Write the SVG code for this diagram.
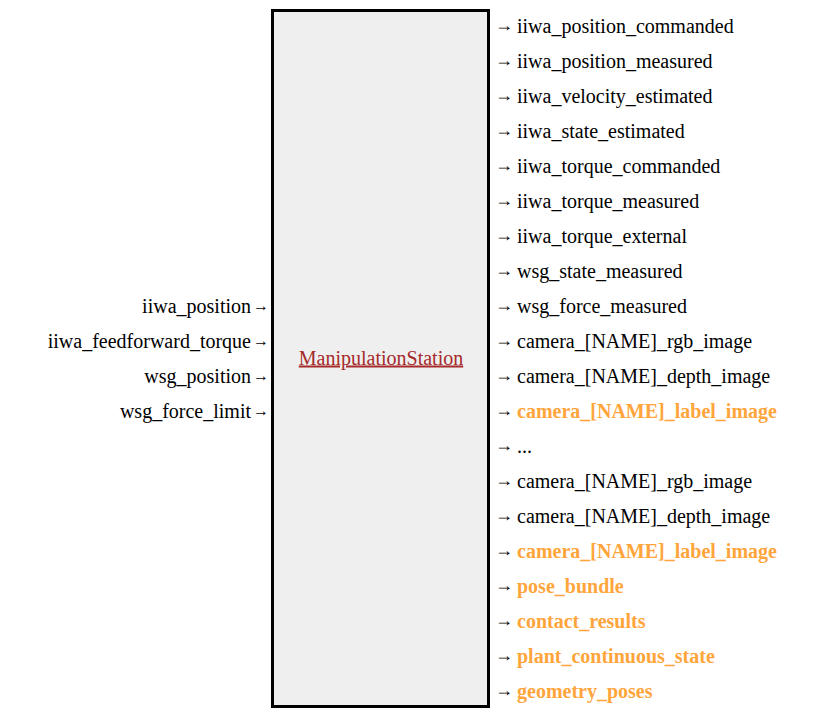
<svg xmlns="http://www.w3.org/2000/svg" width="824" height="723" viewBox="0 0 824 723">
<style>
text{font-family:"Liberation Serif","Times New Roman",serif;font-size:20px;fill:#000;}
.in{text-anchor:end;}
.b{font-weight:bold;fill:#ffa53b;}
.t{fill:#a52a2a;text-decoration:underline;text-anchor:middle;}
.ar{font-size:18px;}
.al{font-size:16px;}
</style>
<rect width="824" height="723" fill="#fff"/>
<g id="ManipulationStation">
<rect x="272.5" y="10.5" width="216" height="696" fill="#efefef" stroke="#000" stroke-width="3"/>
<text class="t" x="381" y="364.5">ManipulationStation</text>
</g>
<g id="inputs">
<text class="in" x="251" y="312.5">iiwa_position</text>
<text class="in" x="251" y="347.5">iiwa_feedforward_torque</text>
<text class="in" x="251" y="382.5">wsg_position</text>
<text class="in" x="251" y="417.5">wsg_force_limit</text>
</g>
<g id="connectors">
<text class="al" x="253" y="311">→</text>
<text class="al" x="253" y="346">→</text>
<text class="al" x="253" y="381">→</text>
<text class="al" x="253" y="416">→</text>
<text class="ar" x="495" y="30.5">→</text>
<text class="ar" x="495" y="65.5">→</text>
<text class="ar" x="495" y="100.5">→</text>
<text class="ar" x="495" y="135.5">→</text>
<text class="ar" x="495" y="170.5">→</text>
<text class="ar" x="495" y="205.5">→</text>
<text class="ar" x="495" y="240.5">→</text>
<text class="ar" x="495" y="275.5">→</text>
<text class="ar" x="495" y="310.5">→</text>
<text class="ar" x="495" y="345.5">→</text>
<text class="ar" x="495" y="380.5">→</text>
<text class="ar" x="495" y="415.5">→</text>
<text class="ar" x="495" y="450.5">→</text>
<text class="ar" x="495" y="485.5">→</text>
<text class="ar" x="495" y="520.5">→</text>
<text class="ar" x="495" y="555.5">→</text>
<text class="ar" x="495" y="590.5">→</text>
<text class="ar" x="495" y="625.5">→</text>
<text class="ar" x="495" y="660.5">→</text>
<text class="ar" x="495" y="695.5">→</text>
</g>
<g id="outputs">
<text x="517" y="32.5">iiwa_position_commanded</text>
<text x="517" y="67.5">iiwa_position_measured</text>
<text x="517" y="102.5">iiwa_velocity_estimated</text>
<text x="517" y="137.5">iiwa_state_estimated</text>
<text x="517" y="172.5">iiwa_torque_commanded</text>
<text x="517" y="207.5">iiwa_torque_measured</text>
<text x="517" y="242.5">iiwa_torque_external</text>
<text x="517" y="277.5">wsg_state_measured</text>
<text x="517" y="312.5">wsg_force_measured</text>
<text x="517" y="347.5">camera_[NAME]_rgb_image</text>
<text x="517" y="382.5">camera_[NAME]_depth_image</text>
<text class="b" x="517" y="417.5">camera_[NAME]_label_image</text>
<text x="517" y="452.5">...</text>
<text x="517" y="487.5">camera_[NAME]_rgb_image</text>
<text x="517" y="522.5">camera_[NAME]_depth_image</text>
<text class="b" x="517" y="557.5">camera_[NAME]_label_image</text>
<text class="b" x="517" y="592.5">pose_bundle</text>
<text class="b" x="517" y="627.5">contact_results</text>
<text class="b" x="517" y="662.5">plant_continuous_state</text>
<text class="b" x="517" y="697.5">geometry_poses</text>
</g>
</svg>
